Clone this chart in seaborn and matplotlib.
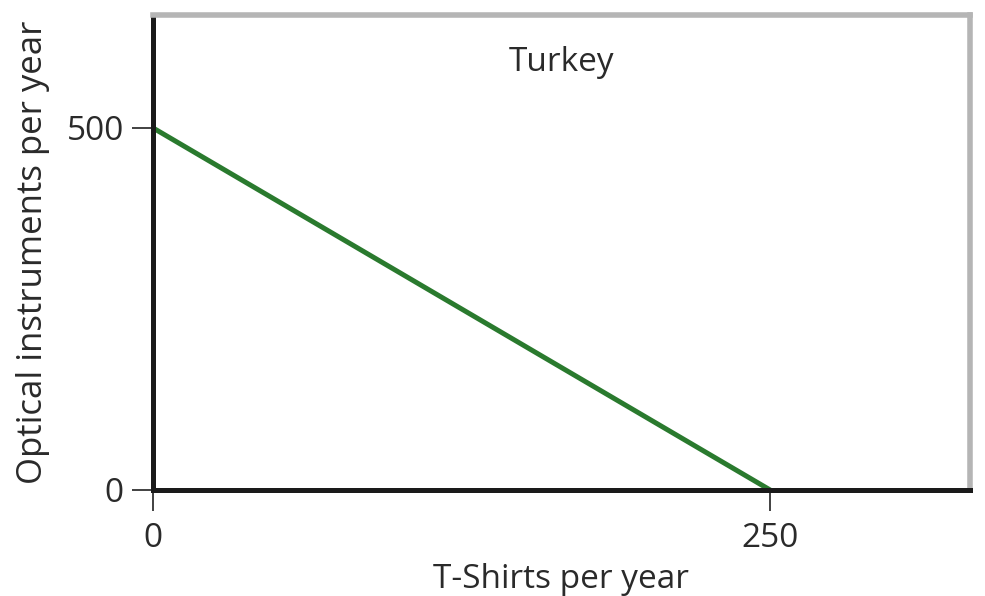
import matplotlib
matplotlib.use('Agg')
import matplotlib.pyplot as plt
import seaborn as sns
import pandas as pd

# production possibilities curve for Turkey
tshirts = [0, 250]
optical = [500, 0]
x_ticks = [0, 250]
y_ticks = [0, 500]
title_text = 'Turkey'
x_label = 'T-Shirts per year'
y_label = 'Optical instruments per year'

sns.set_style('ticks')
plt.rcParams['font.family'] = ['Open Sans', 'DejaVu Sans']

df = pd.DataFrame({'tshirts': tshirts, 'optical': optical})

fig = plt.figure(figsize=(9.85, 5.96), dpi=100)
ax = fig.add_axes([0.1553, 0.1779, 0.8295, 0.797])

sns.lineplot(data=df, x='tshirts', y='optical', ax=ax, color='#2a7a2e', linewidth=3.6)

ax.set_xlim(0, 331)
ax.set_ylim(0, 656)
ax.set_xticks(x_ticks)
ax.set_yticks(y_ticks)
ax.tick_params(axis='both', direction='out', length=15, width=1.3, color='#333333',
               labelsize=24, labelcolor='#2a2a2a', pad=6, bottom=True, left=True)
ax.tick_params(axis='x', pad=8)

for side in ['left', 'bottom']:
    ax.spines[side].set_color('#1a1a1a')
    ax.spines[side].set_linewidth(3.6)
for side in ['top', 'right']:
    ax.spines[side].set_color('#b5b5b5')
    ax.spines[side].set_linewidth(4)

ax.set_xlabel(x_label, fontsize=24, color='#2a2a2a', labelpad=6)
ax.set_ylabel(y_label, fontsize=25, color='#2a2a2a', labelpad=12)
ax.text(0.5, 0.9, title_text, transform=ax.transAxes, ha='center', va='center',
        fontsize=24, color='#2a2a2a')

fig.savefig('out.png', dpi=100)
